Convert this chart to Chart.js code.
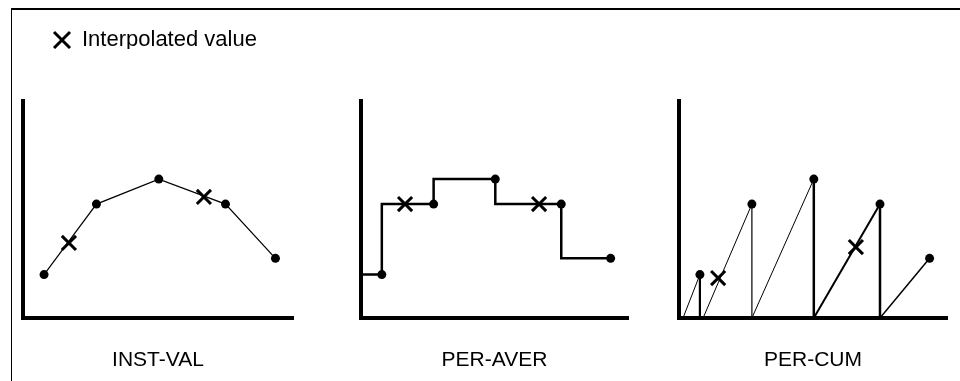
<!DOCTYPE html>
<html>
<head>
<meta charset="utf-8">
<script src="https://cdn.jsdelivr.net/npm/chart.js@4/dist/chart.umd.min.js"></script>
<style>
  html, body { margin: 0; padding: 0; background: #fff; width: 960px; height: 381px; overflow: hidden; }
  body { position: relative; }
  .box { position: absolute; }
  #frame { position: absolute; left: 11px; top: 8px; width: 1000px; height: 400px;
           border-left: 1px solid #000; border-top: 2px solid #000; }
</style>
</head>
<body>
<div id="frame"></div>
<div class="box" style="left:43px;top:19px;"><canvas id="leg" width="400" height="60"></canvas></div>
<div class="box" style="left:13px;top:91px;"><canvas id="c1" width="290" height="286"></canvas></div>
<div class="box" style="left:351px;top:91px;"><canvas id="c2" width="287" height="286"></canvas></div>
<div class="box" style="left:669px;top:91px;"><canvas id="c3" width="288" height="286"></canvas></div>
<script>
// ---- data (x: time 0..100, y: value 0..100) ----
const sampleTimes  = [7.8, 27.2, 50.3, 75, 93.5];
const sampleValues = [20, 52.5, 64, 52.5, 27.5];

const instInterpTimes  = [17, 67];
const instInterpValues = [34.6, 55.8];

const averInterpTimes  = [16.5, 66.7];
const averInterpValues = [52.5, 52.5];

const cumRampStarts    = [1.5, 9, 27.2, 50.3, 75];
const cumInterpTimes   = [14.6, 66];
const cumInterpValues  = [18.4, 32.7];

const panelTitles = ['INST-VAL', 'PER-AVER', 'PER-CUM'];
const legendLabel = 'Interpolated value';

// ---- styles ----
const FONT = 'Liberation Sans, Arial, Helvetica, sans-serif';
const cumRampWidths = [1, 1, 1, 2, 1.5];
const cumDropWidths = [2.2, 1.2, 2.5, 2.5];

Chart.defaults.font.family = FONT;
Chart.defaults.color = '#000';

function pts(xs, ys) { return xs.map((x, i) => ({ x: x, y: ys[i] })); }

function baseOptions(title) {
  const axis = {
    type: 'linear', min: 0, max: 100,
    grid: { display: false, drawTicks: false },
    ticks: { display: false },
    border: { display: true, width: 4, color: '#000' }
  };
  return {
    responsive: false, maintainAspectRatio: false, animation: false, events: [],
    devicePixelRatio: 1,
    layout: { autoPadding: false, padding: { left: 10, right: 10, top: 10, bottom: 5 } },
    plugins: { legend: { display: false }, tooltip: { enabled: false } },
    scales: {
      x: Object.assign({}, axis, {
        position: 'bottom',
        title: { display: true, text: title, color: '#000',
                 font: { family: FONT, size: 21, lineHeight: '24px' },
                 padding: { top: 30, bottom: 0 } }
      }),
      y: Object.assign({}, axis, { position: 'left' })
    }
  };
}

function interpDataset(xs, ys) {
  return { label: legendLabel, data: pts(xs, ys), showLine: false, clip: false,
           pointStyle: 'crossRot', pointRadius: 10, pointHoverRadius: 10,
           pointBorderWidth: 3, pointBorderColor: '#000', pointBackgroundColor: '#000' };
}
function sampleDataset() {
  return { label: 'Samples', data: pts(sampleTimes, sampleValues), showLine: false, clip: false,
           pointStyle: 'circle', pointRadius: 4.5, pointHoverRadius: 4.5,
           pointBorderWidth: 0, pointBackgroundColor: '#000', pointBorderColor: '#000' };
}
function lineDataset(data, extra) {
  return Object.assign({ label: 'Line', data: data, borderColor: '#000', backgroundColor: '#000',
           pointRadius: 0, pointHoverRadius: 0, fill: false, tension: 0, clip: false }, extra);
}

// Panel 1: instantaneous values, straight interpolation
new Chart(document.getElementById('c1'), {
  type: 'line',
  data: { datasets: [
    interpDataset(instInterpTimes, instInterpValues),
    sampleDataset(),
    lineDataset(pts(sampleTimes, sampleValues), { borderWidth: 1.2 })
  ] },
  options: baseOptions(panelTitles[0])
});

// Panel 2: period average, stepped (each value holds over the period before it)
const averLine = [{ x: 0, y: sampleValues[0] }].concat(pts(sampleTimes, sampleValues));
new Chart(document.getElementById('c2'), {
  type: 'line',
  data: { datasets: [
    interpDataset(averInterpTimes, averInterpValues),
    sampleDataset(),
    lineDataset(averLine, { borderWidth: 2.5, stepped: 'after' })
  ] },
  options: baseOptions(panelTitles[1])
});

// Panel 3: period cumulative, sawtooth ramps
const cumLine = [];
const cumSegWidths = [];
sampleTimes.forEach((t, i) => {
  cumLine.push({ x: cumRampStarts[i], y: 0 });
  cumLine.push({ x: t, y: sampleValues[i] });
  cumSegWidths.push(cumRampWidths[i]);
  if (i < sampleTimes.length - 1) {
    cumLine.push({ x: t, y: 0 });
    cumSegWidths.push(cumDropWidths[i]);
    cumSegWidths.push(1);
  }
});
new Chart(document.getElementById('c3'), {
  type: 'line',
  data: { datasets: [
    interpDataset(cumInterpTimes, cumInterpValues),
    sampleDataset(),
    lineDataset(cumLine, { borderWidth: 1,
      segment: { borderWidth: ctx => cumSegWidths[ctx.p0DataIndex] } })
  ] },
  options: baseOptions(panelTitles[2])
});

// Legend
new Chart(document.getElementById('leg'), {
  type: 'line',
  data: { datasets: [ {
    label: legendLabel, data: [], pointStyle: 'crossRot', pointRadius: 10,
    pointBorderWidth: 3, borderWidth: 3, borderColor: '#000', backgroundColor: '#000',
    pointBorderColor: '#000', pointBackgroundColor: '#000'
  } ] },
  options: {
    responsive: false, animation: false, events: [], devicePixelRatio: 1,
    layout: { autoPadding: false, padding: 0 },
    scales: { x: { display: false }, y: { display: false } },
    plugins: {
      tooltip: { enabled: false },
      legend: { display: true, position: 'top', align: 'start',
        labels: { usePointStyle: true, boxWidth: 18, boxHeight: 16, padding: 10,
                  color: '#000', font: { family: FONT, size: 22 } } }
    }
  }
});
</script>
</body>
</html>
